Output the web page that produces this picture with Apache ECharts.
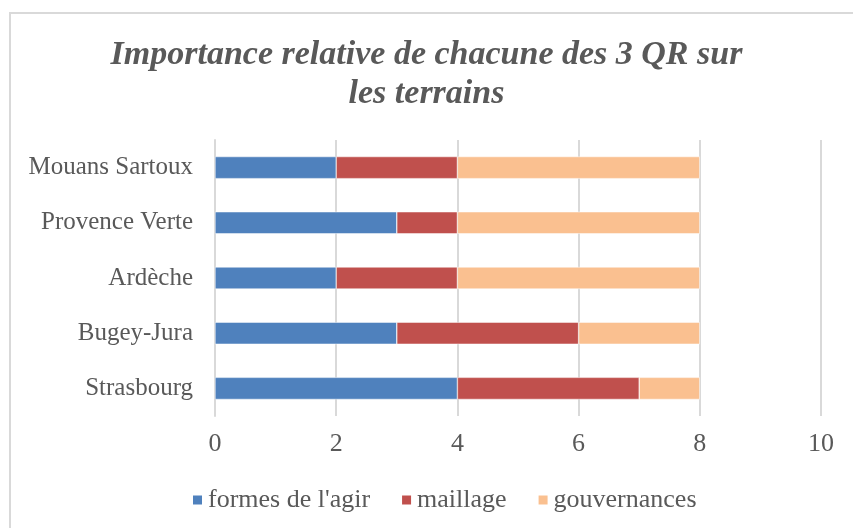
<!DOCTYPE html>
<html><head><meta charset="utf-8">
<script src="https://cdn.jsdelivr.net/npm/echarts@6/dist/echarts.min.js"></script>
<style>
html,body{margin:0;padding:0;background:#fff;}
#frame{position:absolute;left:9px;top:12px;width:900px;height:600px;border-top:2px solid #d9d9d9;border-left:2px solid #d9d9d9;}
#c{position:absolute;left:0;top:0;width:853px;height:528px;}
</style></head>
<body>
<div id="frame"></div>
<div id="c"></div>
<script>
var categories = ['Strasbourg', 'Bugey-Jura', 'Ardèche', 'Provence Verte', 'Mouans Sartoux'];
var formesDeLAgir = [4, 3, 2, 3, 2];
var maillage = [3, 3, 2, 1, 2];
var gouvernances = [1, 2, 4, 4, 4];
var seriesNames = ["formes de l'agir", 'maillage', 'gouvernances'];
var xTicks = [0, 2, 4, 6, 8, 10];

var FONT = 'Liberation Serif';
var chart = echarts.init(document.getElementById('c'), null, {renderer: 'canvas'});
var colors = ['#4F81BD', '#C0504D', '#FAC090'];
var values = [formesDeLAgir, maillage, gouvernances];
chart.setOption({
  animation: false,
  title: {
    text: 'Importance relative de chacune des 3 QR sur\nles terrains',
    left: 'center', top: 31,
    textStyle: {fontFamily: FONT, fontStyle: 'italic', fontWeight: 'bold', fontSize: 34, color: '#595959', lineHeight: 39}
  },
  legend: {
    top: 482, left: 186,
    itemWidth: 11, itemHeight: 11, itemGap: 30,
    icon: 'rect',
    textStyle: {fontFamily: FONT, fontSize: 26, color: '#595959'},
    data: seriesNames
  },
  grid: {left: 215, right: 32, top: 140, bottom: 112, containLabel: false},
  xAxis: {
    type: 'value', min: xTicks[0], max: xTicks[xTicks.length-1], interval: 2,
    axisLine: {show: false}, axisTick: {show: false},
    splitLine: {lineStyle: {color: '#d9d9d9', width: 2}},
    axisLabel: {fontFamily: FONT, fontSize: 26, color: '#595959', margin: 15}
  },
  yAxis: {
    type: 'category', data: categories,
    axisLine: {lineStyle: {color: '#d9d9d9', width: 2}}, axisTick: {show: false},
    axisLabel: {fontFamily: FONT, fontSize: 25, color: '#595959', margin: 22}
  },
  series: seriesNames.map(function(n, i){
    return {name: n, type: 'bar', stack: 'total', data: values[i], barWidth: '40%',
      itemStyle: {color: colors[i], borderColor: '#fff', borderWidth: 0.5}};
  })
});
</script>
</body></html>
